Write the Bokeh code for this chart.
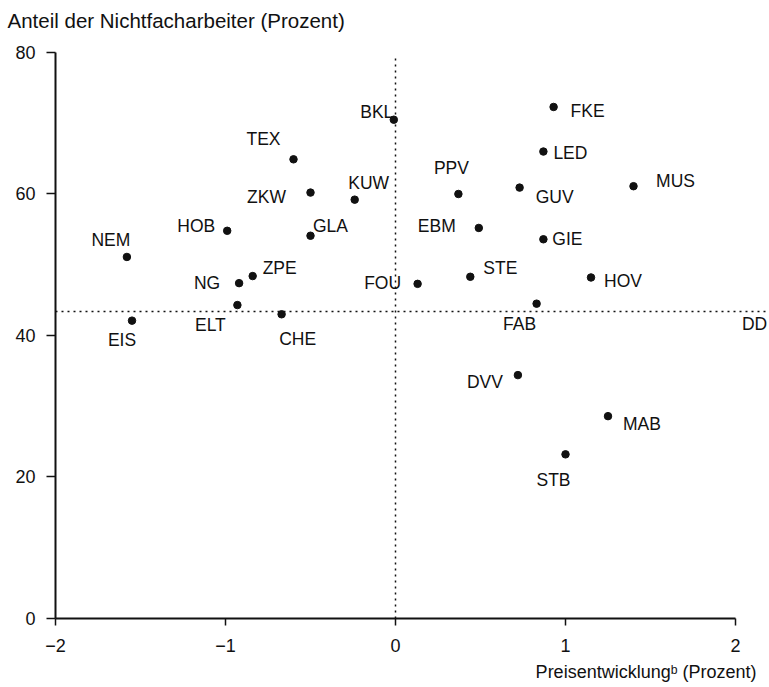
from bokeh.plotting import figure
from bokeh.models import ColumnDataSource, Span, Label, Range1d, FixedTicker, Title
from bokeh.embed import file_html
from bokeh.resources import INLINE
from bokeh.core.properties import value

# ---- data ----
branches = ["BKL", "TEX", "ZKW", "KUW", "HOB", "GLA", "NEM", "ZPE", "NG", "ELT", "CHE", "EIS",
            "FKE", "LED", "PPV", "GUV", "MUS", "EBM", "GIE", "STE", "FOU", "HOV", "FAB", "DVV",
            "MAB", "STB"]
price_change = [-0.01, -0.60, -0.50, -0.24, -0.99, -0.50, -1.58, -0.84, -0.92, -0.93, -0.67, -1.55,
                0.93, 0.87, 0.37, 0.73, 1.40, 0.49, 0.87, 0.44, 0.13, 1.15, 0.83, 0.72,
                1.25, 1.00]
unskilled_share = [70.5, 64.9, 60.2, 59.2, 54.8, 54.1, 51.1, 48.4, 47.4, 44.3, 43.0, 42.1,
                   72.3, 66.0, 60.0, 60.9, 61.1, 55.2, 53.6, 48.3, 47.3, 48.2, 44.5, 34.4,
                   28.6, 23.2]
mean_price = 0.0
mean_share = 43.4
mean_label = "DD"
x_ticks = [-2, -1, 0, 1, 2]
y_ticks = [0, 20, 40, 60, 80]

title_text = "Anteil der Nichtfacharbeiter (Prozent)"
xlabel_text = "Preisentwicklung\u1d47 (Prozent)"

# ---- label placement (screen pixel offsets from each dot) ----
label_offsets = {
    "BKL": (-17, -8), "TEX": (-30, -20), "ZKW": (-44, 4), "KUW": (14, -17),
    "HOB": (-31, -5), "GLA": (20, -10), "NEM": (-16, -17), "ZPE": (27, -8),
    "NG": (-32, 0), "ELT": (-27, 20), "CHE": (16, 25), "EIS": (-10, 19),
    "FKE": (34, 4), "LED": (27, 1), "PPV": (-7, -26), "GUV": (35, 9),
    "MUS": (42, -5), "EBM": (-42, -2), "GIE": (24, 0), "STE": (30, -9),
    "FOU": (-35, -1), "HOV": (32, 4), "FAB": (-17, 20), "DVV": (-33, 7),
    "MAB": (34, 8), "STB": (-12, 26),
}

FONT = "Liberation Sans"
INK = "#111111"

src = ColumnDataSource(dict(
    x=price_change, y=unskilled_share, name=branches,
    dx=[label_offsets[b][0] for b in branches],
    dy=[label_offsets[b][1] for b in branches],
))

# frame extends a little above the 80 mark so the title can sit high
p = figure(width=769, height=687, x_range=Range1d(-2, 2.2), y_range=Range1d(0, 82.26),
           output_backend="svg", toolbar_location=None,
           min_border_left=55, min_border_right=0, min_border_top=36, min_border_bottom=69)
p.outline_line_color = None
p.xgrid.grid_line_color = None
p.ygrid.grid_line_color = None
p.background_fill_color = "white"
p.border_fill_color = "white"

# title, top-left
p.title.text = title_text
p.title.align = "left"
p.title.offset = -48
p.title.standoff = 10
p.title.text_font = FONT
p.title.text_font_size = "20.5px"
p.title.text_font_style = "normal"
p.title.text_color = INK

for ax in (p.xaxis[0], p.yaxis[0]):
    ax.axis_line_width = 2
    ax.axis_line_color = INK
    ax.major_tick_line_width = 1.5
    ax.major_tick_line_color = INK
    ax.major_tick_in = 0
    ax.minor_tick_line_color = None
    ax.major_label_text_font = FONT
    ax.major_label_text_font_size = "18px"
    ax.major_label_text_color = INK

p.xaxis[0].ticker = FixedTicker(ticks=x_ticks)
p.yaxis[0].ticker = FixedTicker(ticks=y_ticks)
p.xaxis[0].bounds = (x_ticks[0], x_ticks[-1])
p.yaxis[0].bounds = (y_ticks[0], y_ticks[-1])
p.xaxis[0].major_tick_out = 7
p.yaxis[0].major_tick_out = 9
p.xaxis[0].major_label_standoff = 13
p.yaxis[0].major_label_standoff = 11

# x caption, bottom-right
p.add_layout(Title(text=xlabel_text, align="right", offset=13, text_font=FONT,
                   text_font_size="18px", text_font_style="normal", text_color=INK),
             "below")

# mean lines
p.segment(x0=[mean_price], y0=[y_ticks[0]], x1=[mean_price], y1=[y_ticks[-1] - 0.8],
          line_color=INK, line_width=1.5, line_dash="2 4")
p.add_layout(Span(location=mean_share, dimension="width", line_color=INK,
                  line_width=1.5, line_dash="2 4"))

p.scatter("x", "y", source=src, size=7.5, color=INK)
p.text(x="x", y="y", text="name", x_offset="dx", y_offset="dy", source=src,
       text_align="center", text_baseline="middle",
       text_font=value(FONT), text_font_size=value("17.5px"), text_color=INK)

p.add_layout(Label(x=2.112, y=mean_share - 1.8, text=mean_label, text_align="center",
                   text_baseline="middle", text_font=FONT, text_font_size="17.5px",
                   text_color=INK))

open("out.html", "w").write(file_html(p, INLINE))
